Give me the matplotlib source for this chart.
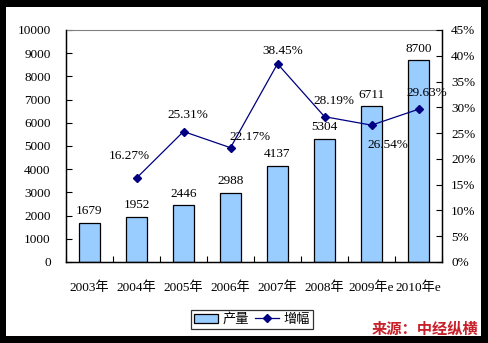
import matplotlib
matplotlib.use("Agg")
import matplotlib.pyplot as plt
from matplotlib.patches import Rectangle, Patch
from matplotlib.lines import Line2D
import numpy as np

years = ["2003年", "2004年", "2005年", "2006年", "2007年", "2008年", "2009年e", "2010年e"]
output = [1679, 1952, 2446, 2988, 4137, 5304, 6711, 8700]
growth = [None, 16.27, 25.31, 22.17, 38.45, 28.19, 26.54, 29.63]
# label offsets in points (dx, dy) for the growth labels
growth_offsets = [None, (-5, 16), (3, 12), (14, 8), (4, 9), (7, 11), (12, -14), (6, 12)]

num_font = ["Liberation Serif", "Noto Sans CJK SC"]
plt.rcParams["font.family"] = num_font

fig = plt.figure(figsize=(4.88, 3.43), dpi=100)
fig.patch.set_facecolor("black")
fig.patches.append(Rectangle((6 / 488, 7 / 343), 475 / 488, 329 / 343,
                             transform=fig.transFigure, facecolor="white",
                             edgecolor="none", zorder=-10))

ax = fig.add_axes([66 / 488, 81 / 343, 376 / 488, 232 / 343])
ax.set_facecolor("none")
x = np.arange(len(years))

bars = ax.bar(x, output, width=0.43, color="#99CCFF", edgecolor="black",
              linewidth=0.9, zorder=2)
for xi, v in zip(x, output):
    ax.annotate(str(v), (xi, v), xytext=(0, 4), textcoords="offset points",
                ha="center", va="bottom", fontsize=9.5)

ax.set_xlim(-0.5, len(years) - 0.5)
ax.set_ylim(0, 10000)
ax.set_yticks(range(0, 10001, 1000))
ax.set_xticks(x)
ax.set_xticklabels(years)
ax.set_xticks(np.arange(-0.5, len(years)), minor=True)
ax.tick_params(axis="x", which="major", length=0, pad=14, labelsize=9.5)
ax.tick_params(axis="x", which="minor", direction="in", length=4, width=0.8)
ax.tick_params(axis="y", direction="in", length=4, width=0.8, labelsize=9.5, pad=11)
ax.spines["top"].set_color("#808080")
for s in ("left", "bottom", "right"):
    ax.spines[s].set_color("black")
    ax.spines[s].set_linewidth(1.0)

ax2 = ax.twinx()
gx = [xi for xi, g in zip(x, growth) if g is not None]
gy = [g for g in growth if g is not None]
ax2.plot(gx, gy, color="#000080", linewidth=0.9, marker="D", markersize=4.5,
         zorder=3)
for xi, g, off in zip(x, growth, growth_offsets):
    if g is None:
        continue
    ax2.annotate(f"{g:.2f}%", (xi, g), xytext=off, textcoords="offset points",
                 ha="center", va="center", fontsize=9.5)
ax2.set_ylim(0, 45)
ax2.set_yticks(range(0, 46, 5))
ax2.set_yticklabels([f"{t}%" for t in range(0, 46, 5)])
ax2.tick_params(axis="y", direction="in", length=4, width=0.8, labelsize=9.5, pad=6.5)
ax2.spines["top"].set_visible(False)
ax2.spines["right"].set_color("black")

handles = [Patch(facecolor="#99CCFF", edgecolor="black", linewidth=0.9),
           Line2D([], [], color="#000080", marker="D", markersize=4, linewidth=0.9)]
leg = fig.legend(handles, ["产量", "增幅"], loc="center",
                 bbox_to_anchor=(252 / 488, 23.5 / 343), ncol=2, fontsize=9.5,
                 frameon=True, fancybox=False, handlelength=1.8, handletextpad=0.3,
                 columnspacing=0.5, borderpad=0.25, handleheight=0.7)
leg.get_frame().set_edgecolor("black")
leg.get_frame().set_linewidth(0.9)

fig.text(478 / 488, 14 / 343, "来源：中经纵横", ha="right", va="center",
         color="#C8202A", fontsize=11, fontweight="bold",
         family=["Noto Sans CJK SC"])

fig.savefig("out.png", dpi=100, facecolor=fig.get_facecolor())
